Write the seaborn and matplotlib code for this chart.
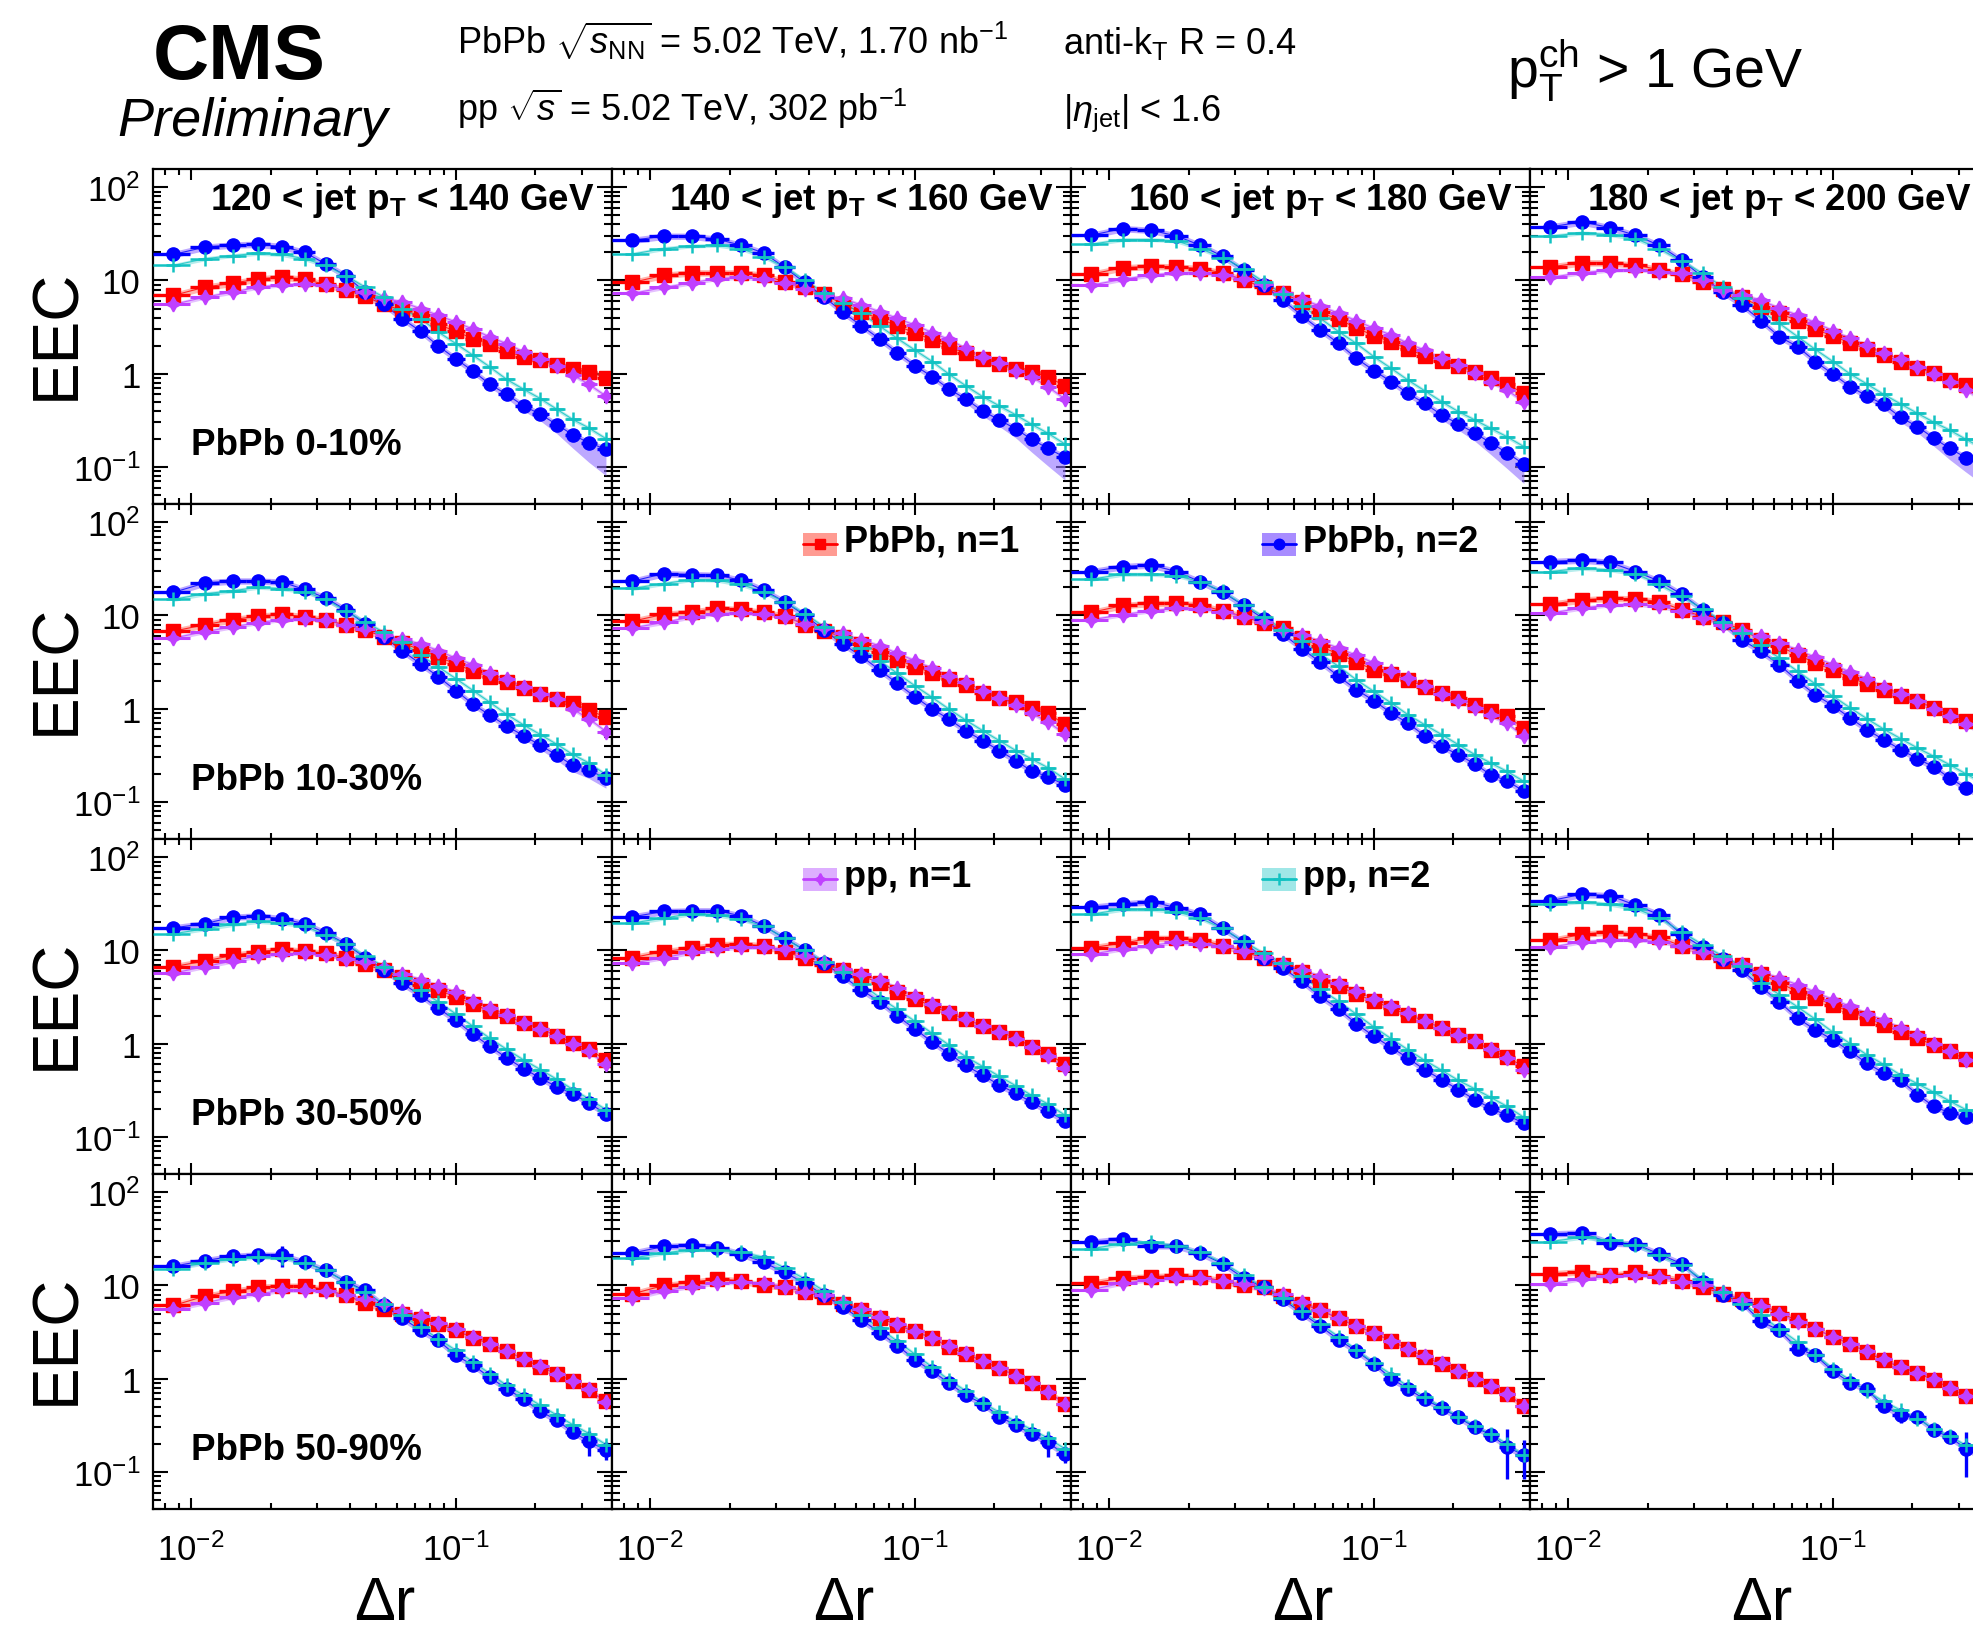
import numpy as np
import matplotlib
matplotlib.use("Agg")
import matplotlib.pyplot as plt
import seaborn as sns
from matplotlib.ticker import FixedLocator, FixedFormatter, LogLocator, NullFormatter
from matplotlib.patches import Rectangle
from matplotlib.lines import Line2D

# ---------------------------------------------------------------- binning
dr_centers = [0.0086, 0.0113, 0.0144, 0.0180, 0.0221, 0.0269, 0.0323, 0.0384,
              0.0455, 0.0536, 0.0629, 0.0738, 0.0860, 0.1002, 0.1165, 0.1346,
              0.1556, 0.1806, 0.2087, 0.2410, 0.2760, 0.3180, 0.3690]
dr_edges = [0.0072, 0.0099, 0.0128, 0.0161, 0.0199, 0.0244, 0.0295, 0.0352,
            0.0418, 0.0494, 0.0581, 0.0681, 0.0797, 0.0928, 0.1080, 0.1252,
            0.1447, 0.1676, 0.1941, 0.2243, 0.2579, 0.2963, 0.3426, 0.3890]

jet_pt_labels = [r"120 < jet p$_{\mathbf{T}}$ < 140 GeV",
                 r"140 < jet p$_{\mathbf{T}}$ < 160 GeV",
                 r"160 < jet p$_{\mathbf{T}}$ < 180 GeV",
                 r"180 < jet p$_{\mathbf{T}}$ < 200 GeV"]
centrality_labels = ["PbPb 0-10%", "PbPb 10-30%", "PbPb 30-50%", "PbPb 50-90%"]

# ---------------------------------------------------------------- PbPb, n=1
pbpb_n1_0_10 = [
    [6.91, 8.49, 9.36, 10.4, 10.9, 10.3, 9.06, 7.94, 6.74, 5.53, 4.77, 4.22, 3.38, 2.84, 2.37, 2.06, 1.75, 1.51, 1.40, 1.23, 1.11, 1.04, 0.906],
    [9.52, 11.4, 12.1, 12.1, 12.1, 11.4, 9.68, 8.41, 7.08, 5.58, 4.54, 3.92, 3.24, 2.75, 2.30, 1.95, 1.65, 1.43, 1.27, 1.11, 1.05, 0.929, 0.738],
    [11.7, 13.7, 14.2, 14.0, 13.4, 12.1, 10.1, 8.41, 7.26, 5.91, 4.54, 3.82, 3.11, 2.55, 2.20, 1.84, 1.56, 1.38, 1.22, 1.05, 0.906, 0.775, 0.615],
    [14.0, 15.5, 15.5, 14.6, 13.1, 11.7, 9.68, 8.20, 6.58, 5.22, 4.43, 3.70, 3.01, 2.53, 2.15, 1.82, 1.58, 1.35, 1.16, 1.01, 0.855, 0.756, 0.641]]
pbpb_n1_10_30 = [
    [6.78, 7.96, 9.04, 9.84, 10.3, 9.74, 9.04, 7.87, 6.93, 5.91, 5.04, 4.29, 3.58, 3.02, 2.52, 2.20, 1.93, 1.68, 1.44, 1.26, 1.14, 0.968, 0.809],
    [8.69, 10.3, 10.9, 11.9, 11.6, 10.8, 9.91, 8.00, 6.79, 5.90, 4.93, 4.01, 3.37, 2.82, 2.43, 2.06, 1.79, 1.48, 1.29, 1.17, 1.01, 0.891, 0.679],
    [10.8, 12.8, 13.5, 13.5, 13.0, 11.2, 9.75, 8.27, 7.31, 5.71, 4.65, 3.85, 3.16, 2.61, 2.35, 2.04, 1.73, 1.47, 1.30, 1.10, 0.935, 0.826, 0.621],
    [13.2, 14.7, 15.3, 15.1, 14.1, 11.5, 9.75, 8.48, 7.02, 5.48, 4.65, 3.79, 3.09, 2.61, 2.16, 1.84, 1.60, 1.36, 1.20, 1.02, 0.861, 0.731, 0.621]]
pbpb_n1_30_50 = [
    [6.71, 7.70, 8.85, 9.74, 10.3, 9.84, 9.33, 8.39, 7.08, 6.10, 5.14, 4.29, 3.74, 3.19, 2.66, 2.22, 1.98, 1.68, 1.44, 1.22, 1.02, 0.871, 0.668],
    [8.39, 9.74, 10.6, 11.5, 11.8, 11.2, 9.74, 8.30, 6.93, 6.23, 5.31, 4.53, 3.58, 3.02, 2.52, 2.15, 1.83, 1.56, 1.33, 1.16, 0.918, 0.783, 0.600],
    [10.7, 12.0, 13.5, 13.5, 13.0, 11.3, 9.75, 8.26, 7.01, 5.94, 4.72, 4.11, 3.43, 2.84, 2.41, 2.04, 1.76, 1.47, 1.25, 1.06, 0.861, 0.713, 0.570],
    [12.8, 14.9, 15.9, 14.9, 13.8, 11.2, 9.74, 7.70, 6.93, 5.60, 4.53, 3.58, 3.12, 2.60, 2.20, 1.89, 1.60, 1.33, 1.14, 0.969, 0.826, 0.682, 0.569]]
pbpb_n1_50_90 = [
    [6.10, 7.69, 8.63, 9.60, 9.84, 9.84, 9.06, 7.81, 6.52, 5.62, 4.97, 4.39, 3.88, 3.30, 2.73, 2.37, 1.96, 1.64, 1.33, 1.13, 0.936, 0.750, 0.571],
    [8.13, 10.0, 10.8, 11.8, 11.2, 10.0, 9.74, 8.57, 7.55, 6.37, 5.49, 4.53, 3.74, 3.22, 2.72, 2.20, 1.83, 1.56, 1.29, 1.08, 0.900, 0.727, 0.540],
    [10.6, 12.0, 12.4, 12.8, 12.4, 11.2, 10.0, 9.53, 7.70, 6.37, 5.42, 4.43, 3.66, 3.12, 2.52, 2.10, 1.70, 1.44, 1.20, 1.00, 0.844, 0.682, 0.512],
    [13.3, 14.1, 12.8, 13.9, 12.6, 11.3, 9.60, 8.14, 7.08, 6.21, 5.10, 4.22, 3.43, 2.80, 2.37, 1.93, 1.57, 1.33, 1.16, 0.960, 0.794, 0.652, 0.527]]

# ---------------------------------------------------------------- PbPb, n=2
pbpb_n2_0_10 = [
    [19.0, 22.8, 24.1, 24.5, 23.1, 20.1, 15.0, 11.3, 7.50, 5.53, 3.88, 2.84, 1.98, 1.44, 1.06, 0.769, 0.601, 0.451, 0.367, 0.284, 0.222, 0.181, 0.155],
    [27.0, 29.9, 29.9, 27.7, 23.9, 19.8, 13.8, 9.52, 6.68, 4.54, 3.27, 2.35, 1.68, 1.22, 0.929, 0.686, 0.536, 0.398, 0.319, 0.255, 0.198, 0.158, 0.127],
    [30.6, 36.1, 34.6, 30.1, 23.9, 18.2, 12.9, 8.91, 6.15, 4.18, 2.94, 2.11, 1.46, 1.08, 0.820, 0.615, 0.481, 0.361, 0.289, 0.230, 0.182, 0.142, 0.107],
    [37.6, 42.5, 37.0, 30.6, 23.9, 16.5, 10.9, 7.56, 5.44, 3.70, 2.49, 1.95, 1.35, 0.990, 0.726, 0.577, 0.469, 0.340, 0.271, 0.203, 0.158, 0.126, 0.101]]
pbpb_n2_10_30 = [
    [17.7, 22.3, 23.5, 23.5, 22.8, 19.0, 15.4, 11.5, 8.13, 5.91, 4.16, 3.02, 2.20, 1.56, 1.11, 0.853, 0.653, 0.512, 0.405, 0.317, 0.248, 0.218, 0.180],
    [23.3, 28.2, 27.5, 27.0, 23.9, 18.7, 14.0, 10.1, 6.96, 4.93, 3.66, 2.59, 1.87, 1.34, 0.991, 0.774, 0.581, 0.454, 0.355, 0.277, 0.215, 0.187, 0.152],
    [29.6, 33.5, 34.9, 29.6, 23.1, 17.8, 12.8, 9.20, 6.31, 4.39, 3.16, 2.22, 1.60, 1.22, 0.897, 0.701, 0.513, 0.394, 0.321, 0.255, 0.196, 0.169, 0.130],
    [37.9, 39.4, 37.2, 29.6, 23.5, 16.9, 11.5, 8.27, 5.48, 4.11, 2.96, 1.99, 1.41, 1.08, 0.794, 0.595, 0.466, 0.364, 0.291, 0.237, 0.181, 0.141, 0.115]]
pbpb_n2_30_50 = [
    [17.5, 19.4, 22.8, 23.5, 21.9, 19.4, 15.4, 11.8, 8.39, 6.23, 4.43, 3.29, 2.39, 1.78, 1.26, 0.938, 0.705, 0.540, 0.427, 0.345, 0.291, 0.231, 0.177],
    [23.0, 26.2, 26.7, 26.7, 23.5, 18.4, 13.5, 10.1, 7.31, 5.31, 3.78, 2.81, 1.98, 1.44, 1.04, 0.783, 0.587, 0.460, 0.360, 0.294, 0.236, 0.190, 0.148],
    [29.1, 31.6, 33.4, 28.8, 24.5, 17.3, 12.3, 8.26, 6.46, 4.65, 3.21, 2.35, 1.64, 1.20, 0.912, 0.701, 0.526, 0.411, 0.321, 0.251, 0.204, 0.170, 0.141],
    [34.2, 40.1, 38.8, 30.7, 24.3, 14.9, 10.8, 8.13, 6.10, 4.07, 2.81, 1.87, 1.41, 1.10, 0.826, 0.620, 0.485, 0.405, 0.285, 0.212, 0.182, 0.164, 0.135]]
pbpb_n2_50_90 = [
    [16.1, 18.5, 20.6, 21.3, 21.0, 17.8, 14.5, 11.0, 8.84, 6.10, 4.47, 3.30, 2.57, 1.78, 1.39, 1.03, 0.782, 0.601, 0.447, 0.358, 0.268, 0.213, 0.171],
    [22.3, 26.2, 27.0, 25.4, 21.9, 17.7, 13.8, 10.6, 7.87, 5.91, 4.29, 3.12, 2.27, 1.60, 1.20, 0.900, 0.668, 0.540, 0.392, 0.317, 0.256, 0.207, 0.154],
    [29.1, 31.7, 26.7, 26.7, 22.3, 17.1, 12.0, 9.53, 7.08, 5.04, 3.66, 2.61, 1.98, 1.45, 1.00, 0.783, 0.600, 0.485, 0.384, 0.301, 0.251, 0.186, 0.151],
    [35.8, 36.7, 28.7, 27.9, 21.8, 17.1, 11.0, 7.94, 6.52, 4.11, 3.30, 2.10, 1.78, 1.21, 0.906, 0.769, 0.509, 0.411, 0.388, 0.279, 0.237, 0.178, 0.145]]

# ---------------------------------------------------------------- pp, n=1
pp_n1_0_10 = [
    [5.53, 6.63, 7.50, 8.49, 8.99, 9.21, 8.84, 8.15, 7.50, 6.47, 5.86, 4.97, 4.22, 3.58, 2.99, 2.47, 2.10, 1.71, 1.45, 1.21, 0.976, 0.769, 0.576],
    [7.26, 8.41, 9.44, 10.5, 10.8, 10.3, 9.44, 8.20, 6.96, 6.41, 5.44, 4.62, 3.92, 3.32, 2.75, 2.33, 1.87, 1.52, 1.29, 1.08, 0.929, 0.726, 0.536],
    [8.91, 10.3, 11.4, 12.1, 12.1, 11.4, 10.5, 9.28, 7.38, 6.26, 5.31, 4.43, 3.70, 3.06, 2.60, 2.11, 1.79, 1.46, 1.24, 1.01, 0.820, 0.668, 0.501],
    [10.8, 12.1, 12.9, 13.1, 12.4, 11.9, 10.1, 7.88, 6.96, 6.15, 5.01, 4.25, 3.52, 2.89, 2.39, 2.03, 1.65, 1.43, 1.19, 0.990, 0.820, 0.668, 0.522]]
pp_n1_10_30 = [
    [5.72, 6.71, 7.55, 8.39, 9.04, 9.23, 8.85, 7.87, 7.08, 6.23, 5.60, 4.93, 4.20, 3.47, 2.96, 2.39, 2.08, 1.70, 1.45, 1.26, 0.990, 0.783, 0.569],
    [7.37, 8.41, 9.67, 10.5, 10.7, 10.3, 9.67, 8.20, 7.37, 6.41, 5.44, 4.73, 3.92, 3.27, 2.70, 2.26, 1.92, 1.55, 1.31, 1.09, 0.891, 0.725, 0.535],
    [8.99, 10.2, 11.2, 12.0, 11.8, 11.0, 9.75, 8.61, 7.02, 6.20, 5.26, 4.46, 3.73, 3.09, 2.51, 2.13, 1.76, 1.43, 1.20, 1.02, 0.848, 0.701, 0.505],
    [10.6, 12.0, 13.0, 13.2, 12.5, 11.2, 9.51, 7.94, 6.84, 5.95, 5.05, 4.28, 3.55, 2.96, 2.47, 2.08, 1.73, 1.43, 1.20, 1.00, 0.828, 0.685, 0.527]]
pp_n1_30_50 = [
    [5.72, 6.71, 7.70, 8.75, 9.23, 9.33, 9.04, 8.13, 7.55, 6.57, 5.60, 4.88, 4.16, 3.58, 2.90, 2.44, 2.04, 1.68, 1.44, 1.20, 1.00, 0.826, 0.600],
    [7.31, 8.39, 9.53, 10.4, 10.8, 10.8, 10.3, 8.75, 7.55, 6.37, 5.60, 4.78, 3.98, 3.22, 2.66, 2.20, 1.83, 1.56, 1.33, 1.11, 0.918, 0.743, 0.551],
    [9.12, 10.4, 11.3, 12.3, 11.7, 11.3, 9.91, 8.61, 7.31, 6.20, 5.26, 4.46, 3.69, 3.03, 2.51, 2.13, 1.76, 1.47, 1.25, 1.06, 0.883, 0.701, 0.526],
    [10.8, 12.4, 13.1, 13.1, 12.4, 11.2, 9.53, 8.13, 7.08, 5.91, 5.04, 4.29, 3.58, 2.96, 2.52, 2.10, 1.78, 1.48, 1.24, 1.00, 0.844, 0.668, 0.512]]
pp_n1_50_90 = [
    [5.53, 6.52, 7.50, 8.14, 8.84, 8.84, 8.63, 7.94, 7.20, 6.26, 5.27, 4.69, 3.98, 3.38, 2.80, 2.37, 1.96, 1.64, 1.36, 1.13, 0.936, 0.769, 0.562],
    [7.31, 8.75, 9.74, 10.6, 10.8, 10.6, 9.74, 8.57, 7.87, 6.57, 5.60, 4.62, 3.86, 3.22, 2.72, 2.27, 1.89, 1.56, 1.29, 1.08, 0.900, 0.727, 0.540],
    [9.04, 10.6, 11.5, 12.0, 12.0, 11.2, 10.4, 9.33, 8.13, 6.57, 5.42, 4.53, 3.66, 3.12, 2.52, 2.10, 1.74, 1.48, 1.20, 1.00, 0.844, 0.682, 0.512],
    [10.4, 11.8, 12.6, 13.0, 12.3, 11.0, 10.0, 8.49, 6.91, 6.00, 4.97, 4.05, 3.43, 2.80, 2.37, 1.96, 1.64, 1.33, 1.16, 1.00, 0.794, 0.652, 0.518]]

# ---------------------------------------------------------------- pp, n=2
pp_n2_0_10 = [
    [14.5, 17.1, 18.5, 19.6, 19.0, 17.1, 14.5, 11.3, 8.49, 6.63, 4.97, 3.88, 2.80, 2.10, 1.57, 1.18, 0.870, 0.680, 0.540, 0.415, 0.324, 0.262, 0.201],
    [19.2, 22.0, 23.5, 23.9, 22.0, 17.9, 14.0, 10.1, 7.38, 5.76, 4.43, 3.24, 2.39, 1.79, 1.35, 0.990, 0.744, 0.567, 0.451, 0.361, 0.287, 0.230, 0.176],
    [24.5, 27.5, 27.5, 26.6, 22.0, 17.6, 13.4, 9.68, 7.14, 5.31, 3.92, 2.82, 2.11, 1.52, 1.14, 0.855, 0.657, 0.501, 0.392, 0.319, 0.260, 0.211, 0.165],
    [29.9, 32.4, 31.1, 28.2, 22.0, 16.2, 11.9, 8.55, 6.41, 4.73, 3.46, 2.49, 1.82, 1.35, 0.990, 0.775, 0.601, 0.473, 0.376, 0.301, 0.249, 0.198, 0.158]]
pp_n2_10_30 = [
    [14.9, 17.1, 18.4, 20.1, 19.4, 18.0, 14.9, 11.2, 8.57, 6.57, 5.14, 3.74, 2.81, 2.10, 1.56, 1.17, 0.871, 0.668, 0.528, 0.414, 0.324, 0.262, 0.196],
    [19.5, 22.0, 24.3, 23.9, 21.5, 17.9, 14.0, 10.5, 7.55, 5.90, 4.43, 3.27, 2.39, 1.76, 1.32, 0.991, 0.755, 0.581, 0.454, 0.355, 0.289, 0.233, 0.176],
    [24.5, 27.7, 27.7, 26.8, 23.1, 18.1, 13.0, 9.75, 7.02, 5.35, 3.85, 2.84, 2.04, 1.53, 1.15, 0.863, 0.674, 0.527, 0.411, 0.321, 0.262, 0.213, 0.166],
    [29.6, 32.1, 30.9, 28.2, 21.6, 16.0, 11.8, 8.61, 6.46, 4.77, 3.49, 2.51, 1.84, 1.36, 1.02, 0.781, 0.605, 0.477, 0.379, 0.308, 0.251, 0.200, 0.160]]
pp_n2_30_50 = [
    [15.1, 17.1, 19.0, 20.5, 19.7, 18.4, 14.6, 11.8, 8.75, 6.71, 5.04, 3.74, 2.81, 2.08, 1.53, 1.14, 0.871, 0.668, 0.528, 0.414, 0.324, 0.256, 0.196],
    [19.7, 22.3, 24.8, 24.0, 21.6, 18.4, 13.5, 10.1, 7.55, 5.91, 4.39, 3.12, 2.34, 1.74, 1.29, 0.969, 0.727, 0.569, 0.446, 0.353, 0.279, 0.226, 0.171],
    [24.5, 27.7, 27.7, 26.1, 22.2, 17.3, 12.5, 9.35, 7.31, 5.26, 3.85, 2.84, 2.07, 1.51, 1.13, 0.861, 0.663, 0.518, 0.404, 0.327, 0.266, 0.213, 0.162],
    [31.4, 33.4, 31.4, 28.2, 22.3, 15.9, 11.5, 8.75, 6.78, 4.53, 3.36, 2.47, 1.83, 1.33, 1.00, 0.759, 0.600, 0.460, 0.372, 0.301, 0.243, 0.196, 0.159]]
pp_n2_50_90 = [
    [15.1, 17.5, 19.3, 20.1, 19.8, 17.5, 14.5, 11.0, 8.49, 6.26, 4.77, 3.58, 2.68, 2.01, 1.51, 1.13, 0.849, 0.663, 0.518, 0.405, 0.322, 0.258, 0.196],
    [19.7, 22.3, 24.3, 24.3, 22.8, 20.1, 15.4, 11.8, 8.75, 6.57, 4.78, 3.47, 2.52, 1.83, 1.33, 0.969, 0.743, 0.551, 0.436, 0.345, 0.285, 0.231, 0.177],
    [24.8, 28.2, 29.1, 26.7, 22.8, 17.5, 12.8, 9.53, 7.31, 5.31, 3.86, 2.81, 2.04, 1.48, 1.11, 0.826, 0.632, 0.496, 0.392, 0.310, 0.256, 0.200, 0.151],
    [29.6, 32.9, 30.4, 27.3, 21.0, 16.4, 11.6, 8.49, 6.36, 4.77, 3.43, 2.47, 1.81, 1.28, 0.960, 0.731, 0.571, 0.458, 0.373, 0.291, 0.243, 0.193, 0.151]]

# relative statistical uncertainty of PbPb n=2 in peripheral events (bin index -> value)
pbpb_n2_stat_50_90 = [{4: 0.25, 21: 0.30, 22: 0.22},
                      {21: 0.30, 22: 0.20},
                      {21: 0.55, 22: 0.45},
                      {0: 0.12, 1: 0.10, 17: 0.18, 21: 0.50, 22: 0.50}]

# relative systematic uncertainties
sys_rel = {"pbpb_n1": 0.08, "pbpb_n2": 0.08, "pp_n1": 0.05, "pp_n2": 0.05}
# widened lower systematic edge of PbPb n=2 for the last seven Δr bins
pbpb_n2_sys_tail_lo = {
    (0, 0): [0.10, 0.12, 0.15, 0.20, 0.28, 0.38, 0.48],
    (0, 1): [0.10, 0.12, 0.15, 0.20, 0.27, 0.35, 0.43],
    (0, 2): [0.10, 0.12, 0.14, 0.18, 0.25, 0.32, 0.38],
    (0, 3): [0.10, 0.12, 0.14, 0.18, 0.24, 0.30, 0.36],
    (1, 0): [0.08, 0.09, 0.10, 0.12, 0.15, 0.18, 0.22],
}

series_data = {
    "pbpb_n1": [pbpb_n1_0_10, pbpb_n1_10_30, pbpb_n1_30_50, pbpb_n1_50_90],
    "pbpb_n2": [pbpb_n2_0_10, pbpb_n2_10_30, pbpb_n2_30_50, pbpb_n2_50_90],
    "pp_n1": [pp_n1_0_10, pp_n1_10_30, pp_n1_30_50, pp_n1_50_90],
    "pp_n2": [pp_n2_0_10, pp_n2_10_30, pp_n2_30_50, pp_n2_50_90],
}
legend_labels = {"pbpb_n1": "PbPb, n=1", "pbpb_n2": "PbPb, n=2",
                 "pp_n1": "pp, n=1", "pp_n2": "pp, n=2"}
legend_panels = {(1, 1): "pbpb_n1", (1, 2): "pbpb_n2", (2, 1): "pp_n1", (2, 2): "pp_n2"}

# ---------------------------------------------------------------- styles
styles = {
    "pbpb_n1": dict(color="#ff0000", band="#ff7a6e", band_alpha=0.55, marker="s", ms=9.5, mew=1.0, z=4, xlw=2.4),
    "pbpb_n2": dict(color="#0000ff", band="#9270ff", band_alpha=0.6, marker="o", ms=9.5, mew=1.0, z=5, xlw=2.4),
    "pp_n1": dict(color="#c040ff", band="#d8a0ff", band_alpha=0.65, marker=(4, 1, 0), ms=10.5, mew=1.2, z=6, xlw=2.2),
    "pp_n2": dict(color="#12c2c2", band="#8fe3e3", band_alpha=0.65, marker="+", ms=10.0, mew=1.8, z=7, xlw=1.8),
}
draw_order = ["pbpb_n1", "pbpb_n2", "pp_n1", "pp_n2"]

sns.set_theme(style="ticks")
plt.rcParams["font.family"] = ["Liberation Sans", "DejaVu Sans"]
plt.rcParams["mathtext.fontset"] = "custom"
plt.rcParams["mathtext.rm"] = "Liberation Sans"
plt.rcParams["mathtext.it"] = "Liberation Sans:italic"
plt.rcParams["mathtext.bf"] = "Liberation Sans:bold"
plt.rcParams["mathtext.sf"] = "Liberation Sans"
plt.rcParams["axes.unicode_minus"] = True
for key in ["text.color", "axes.labelcolor", "xtick.color", "ytick.color",
            "xtick.labelcolor", "ytick.labelcolor", "axes.edgecolor"]:
    plt.rcParams[key] = "black"

W, H = 1973, 1631
fig = plt.figure(figsize=(W / 100, H / 100), dpi=100, facecolor="white")

x = np.array(dr_centers)
edges = np.array(dr_edges)
xerr = np.vstack([x - edges[:-1], edges[1:] - x])

PX_LEFT, PX_TOP, PX_W, PX_H = 153, 170, 459, 335


def draw_panel(ax, row, col):
    ax.set_xscale("log")
    ax.set_yscale("log")
    for key in draw_order:
        st = styles[key]
        y = np.array(series_data[key][row][col])
        lo = np.full(len(y), sys_rel[key])
        hi = np.full(len(y), sys_rel[key])
        if key == "pbpb_n2" and (row, col) in pbpb_n2_sys_tail_lo:
            lo[-7:] = pbpb_n2_sys_tail_lo[(row, col)]
        ax.fill_between(x, y * (1 - lo), y * (1 + hi), color=st["band"],
                        alpha=st["band_alpha"], lw=0, zorder=1)
        sns.lineplot(x=x, y=y, ax=ax, color=st["color"], lw=0.8, alpha=0.8,
                     estimator=None, sort=False, legend=False, zorder=2)
        yerr = None
        if key == "pbpb_n2" and row == 3:
            rel = np.zeros(len(y))
            for i, v in pbpb_n2_stat_50_90[col].items():
                rel[i] = v
            yerr = rel * y
        ax.errorbar(x, y, xerr=xerr, yerr=yerr, fmt="none", ecolor=st["color"],
                    elinewidth=st["xlw"], capsize=0, zorder=st["z"])
        ax.plot(x, y, ls="none", marker=st["marker"], ms=st["ms"], color=st["color"],
                mec=st["color"], mew=st["mew"], zorder=st["z"] + 0.5)

    ax.set_xlim(0.0072, 0.389)
    ax.set_ylim(0.04, 157)
    ax.set_xlabel("")
    ax.set_ylabel("")

    ax.xaxis.set_major_locator(FixedLocator([0.01, 0.1]))
    ax.xaxis.set_minor_locator(LogLocator(base=10, subs=np.arange(2, 10), numticks=30))
    ax.yaxis.set_major_locator(FixedLocator([0.1, 1, 10, 100]))
    ax.yaxis.set_minor_locator(LogLocator(base=10, subs=np.arange(2, 10), numticks=30))
    ax.xaxis.set_minor_formatter(NullFormatter())
    ax.yaxis.set_minor_formatter(NullFormatter())
    if row == 3:
        ax.xaxis.set_major_formatter(FixedFormatter([r"$10^{-2}$", r"$10^{-1}$"]))
    else:
        ax.xaxis.set_major_formatter(NullFormatter())
    if col == 0:
        ax.yaxis.set_major_formatter(FixedFormatter([r"$10^{-1}$", "1", "10", r"$10^{2}$"]))
    else:
        ax.yaxis.set_major_formatter(NullFormatter())

    ax.tick_params(which="both", direction="in", top=True, right=True,
                   width=1.5, color="black", labelcolor="black", labelsize=25)
    ax.tick_params(axis="y", which="major", length=11, pad=9)
    ax.tick_params(axis="y", which="minor", length=6)
    ax.tick_params(axis="x", which="major", length=8, pad=17)
    ax.tick_params(axis="x", which="minor", length=4.5)
    for sp in ax.spines.values():
        sp.set_linewidth(1.6)
        sp.set_color("black")
    ax.set_facecolor("white")

    if row == 0:
        ax.text(0.962, 0.881, jet_pt_labels[col], transform=ax.transAxes, ha="right",
                va="baseline", fontsize=26.5, fontweight="bold", color="black", zorder=20)
    if col == 0:
        ax.text(0.083, 0.149, centrality_labels[row], transform=ax.transAxes, ha="left",
                va="baseline", fontsize=26.5, fontweight="bold", color="black", zorder=20)
    if (row, col) in legend_panels:
        key = legend_panels[(row, col)]
        st = styles[key]
        ax.add_patch(Rectangle((0.416, 0.846), 0.074, 0.068, transform=ax.transAxes,
                               facecolor=st["band"], alpha=min(1, st["band_alpha"] + 0.2),
                               edgecolor="none", zorder=15))
        ax.add_line(Line2D([0.416, 0.490], [0.880, 0.880], transform=ax.transAxes,
                           color=st["color"], lw=2.0, zorder=16))
        ax.plot([0.453], [0.880], transform=ax.transAxes, ls="none", marker=st["marker"],
                ms=st["ms"] * 0.8, color=st["color"], mew=st["mew"], zorder=17, clip_on=False)
        ax.text(0.505, 0.860, legend_labels[key], transform=ax.transAxes, ha="left",
                va="baseline", fontsize=26, fontweight="bold", color="black", zorder=20)


for row in range(4):
    for col in range(4):
        left = (PX_LEFT + col * PX_W) / W
        bottom = 1 - (PX_TOP + (row + 1) * PX_H) / H
        ax = fig.add_axes([left, bottom, PX_W / W, PX_H / H])
        draw_panel(ax, row, col)

# axis titles
for row in range(4):
    yc = 1 - (PX_TOP + (row + 0.5) * PX_H - 3) / H
    fig.text(57 / W, yc, "EEC", rotation=90, ha="center", va="center", fontsize=46, color="black")
for col in range(4):
    xc = (PX_LEFT + (col + 0.5) * PX_W + 2) / W
    fig.text(xc, 11 / H, "Δr", ha="center", va="baseline", fontsize=44, color="black")

# header
fig.text(239 / W, 1 - 79 / H, "CMS", ha="center", va="baseline", fontsize=56, fontweight="bold")
fig.text(117 / W, 1 - 136 / H, "Preliminary", ha="left", va="baseline", fontsize=39, style="italic")
fig.text(457 / W, 1 - 54 / H, r"PbPb $\sqrt{s_{\mathrm{NN}}}$ = 5.02 TeV, 1.70 nb$^{-1}$",
         ha="left", va="baseline", fontsize=26)
fig.text(457 / W, 1 - 121 / H, r"pp $\sqrt{s}$ = 5.02 TeV, 302 pb$^{-1}$",
         ha="left", va="baseline", fontsize=26)
fig.text(1063 / W, 1 - 54 / H, r"anti-k$_{\mathrm{T}}$ R = 0.4", ha="left", va="baseline", fontsize=26)
fig.text(1063 / W, 1 - 121 / H, r"|$\eta_{\mathrm{jet}}$| < 1.6", ha="left", va="baseline", fontsize=26)
fig.text(1507 / W, 1 - 88 / H, r"p$_{\mathrm{T}}^{\mathrm{ch}}$ > 1 GeV", ha="left", va="baseline", fontsize=40)

fig.savefig("out.png", dpi=100, facecolor="white")
